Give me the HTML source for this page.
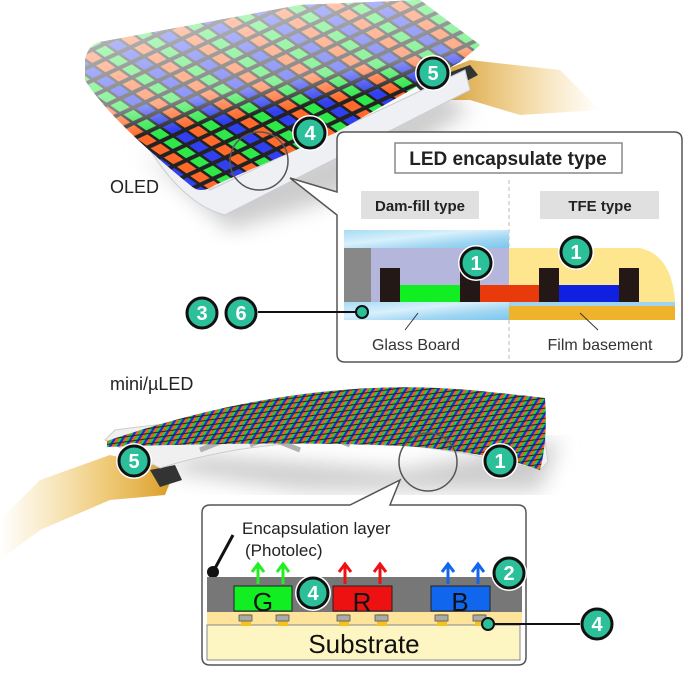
<!DOCTYPE html>
<html><head><meta charset="utf-8"><style>
html,body{margin:0;padding:0;background:#fff;}
svg{display:block;font-family:"Liberation Sans","DejaVu Sans",sans-serif;}
</style></head><body>
<svg width="696" height="680" viewBox="0 0 696 680" xmlns="http://www.w3.org/2000/svg">
<defs>
<pattern id="oled" width="42" height="14" patternUnits="userSpaceOnUse" patternTransform="rotate(-25) skewX(30)">
<rect width="42" height="14" fill="#222"/>
<rect x="1.5" y="2" width="11" height="10" fill="#ff6a2a"/>
<rect x="15.5" y="2" width="11" height="10" fill="#2ee84a"/>
<rect x="29.5" y="2" width="11" height="10" fill="#3040f0"/>
</pattern>
<pattern id="mled" width="9" height="5" patternUnits="userSpaceOnUse" patternTransform="rotate(-8) skewX(-40)">
<rect width="9" height="5" fill="#222"/>
<rect x="0" y="0.5" width="3" height="4" fill="#ff5a1a"/>
<rect x="3" y="0.5" width="3" height="4" fill="#1fcf3a"/>
<rect x="6" y="0.5" width="3" height="4" fill="#1830e0"/>
</pattern>
<linearGradient id="fade" x1="0.3" y1="0" x2="0.6" y2="0.8">
<stop offset="0" stop-color="#fff" stop-opacity="0.7"/>
<stop offset="0.55" stop-color="#fff" stop-opacity="0.45"/>
<stop offset="0.72" stop-color="#fff" stop-opacity="0"/>
</linearGradient>
<linearGradient id="glass" x1="0" y1="0" x2="1" y2="1">
<stop offset="0" stop-color="#a8dcf4"/><stop offset="0.4" stop-color="#d8f0fc"/><stop offset="0.7" stop-color="#a0d6f2"/><stop offset="1" stop-color="#7cc6ee"/>
</linearGradient>
<linearGradient id="flex" x1="1" y1="0" x2="0" y2="0">
<stop offset="0" stop-color="#f0c050" stop-opacity="0"/><stop offset="0.6" stop-color="#e0aa40" stop-opacity="0.7"/><stop offset="1" stop-color="#c88a18"/>
</linearGradient>
<linearGradient id="flex2" x1="0" y1="0" x2="1" y2="0">
<stop offset="0" stop-color="#f0c050" stop-opacity="0"/><stop offset="0.6" stop-color="#e8b440" stop-opacity="0.7"/><stop offset="1" stop-color="#d89a20"/>
</linearGradient>
<filter id="blur"><feGaussianBlur stdDeviation="10"/></filter>
</defs>

<!-- OLED shadow -->
<polygon points="140,150 230,230 330,200 470,110 440,90 330,150 220,190" fill="#ccc" filter="url(#blur)"/>
<!-- flex OLED -->
<polygon points="420,80 470,60 560,70 600,110 520,115 470,100 440,100" fill="url(#flex)"/>
<polygon points="415,85 470,65 478,75 430,100" fill="#333"/>
<!-- OLED glass edge -->
<path d="M150,150 Q185,205 225,215 L470,90 L465,70 L210,190 Z" fill="#eef0f3" stroke="#c8cdd4" stroke-width="1"/>
<!-- OLED top -->
<path d="M85,60 Q88,45 100,42 L300,5 L420,0 L480,45 L460,62 L335,133 L215,185 Q200,195 190,185 Q110,120 85,80 Z" fill="url(#oled)"/>
<path d="M85,60 Q88,45 100,42 L300,5 L420,0 L480,45 L460,62 L335,133 L215,185 Q200,195 190,185 Q110,120 85,80 Z" fill="url(#fade)"/>
<circle cx="259" cy="161" r="29" fill="none" stroke="#555" stroke-width="1.5"/>
<text x="110" y="193" font-size="18" fill="#222">OLED</text>

<!-- OLED callout -->
<path d="M345,132 L674,132 Q682,132 682,140 L682,354 Q682,362 674,362 L345,362 Q337,362 337,354 L337,215 L290,178 L337,192 L337,140 Q337,132 345,132 Z" fill="#fff" stroke="#555" stroke-width="1.5"/>
<rect x="395" y="143" width="227" height="30" fill="#fff" stroke="#888" stroke-width="1.5"/>
<text x="508" y="165" font-size="19" font-weight="bold" fill="#222" text-anchor="middle">LED encapsulate type</text>
<line x1="509" y1="180" x2="509" y2="360" stroke="#bbb" stroke-dasharray="4,3"/>
<rect x="361" y="191" width="118" height="28" fill="#e0e0e0"/>
<text x="420" y="211" font-size="15" font-weight="bold" fill="#222" text-anchor="middle">Dam-fill type</text>
<rect x="540" y="191" width="119" height="28" fill="#e0e0e0"/>
<text x="600" y="211" font-size="15" font-weight="bold" fill="#222" text-anchor="middle">TFE type</text>
<rect x="344" y="230" width="165" height="18" fill="url(#glass)"/>
<rect x="344" y="248" width="165" height="54" fill="#b4b6dc"/>
<rect x="344" y="248" width="27" height="54" fill="#888"/>
<path d="M509,248 L640,248 Q672,255 675,302 L509,302 Z" fill="#fde68e"/>
<rect x="400" y="285" width="60" height="17" fill="#11ee22"/>
<rect x="480" y="285" width="60" height="17" fill="#e83a0a"/>
<rect x="559" y="285" width="60" height="17" fill="#1020e0"/>
<rect x="380" y="268" width="20" height="34" fill="#231816"/>
<rect x="460" y="268" width="20" height="34" fill="#231816"/>
<rect x="539" y="268" width="20" height="34" fill="#231816"/>
<rect x="619" y="268" width="20" height="34" fill="#231816"/>
<rect x="344" y="302" width="165" height="18" fill="url(#glass)"/>
<rect x="509" y="302" width="166" height="4" fill="#9fd4f0"/>
<rect x="509" y="306" width="166" height="14" fill="#eeb32a"/>
<line x1="418" y1="313" x2="405" y2="330" stroke="#333"/>
<line x1="580" y1="313" x2="598" y2="330" stroke="#333"/>
<text x="416" y="350" font-size="16" fill="#333" text-anchor="middle">Glass Board</text>
<text x="600" y="350" font-size="16" fill="#333" text-anchor="middle">Film basement</text>
<line x1="258" y1="312" x2="358" y2="312" stroke="#111" stroke-width="2"/>
<circle cx="362" cy="312" r="6" fill="#2bbf9a" stroke="#111" stroke-width="2"/>

<!-- mini LED -->
<text x="110" y="390" font-size="18" fill="#222">mini/µLED</text>
<polygon points="160,470 300,490 540,490 560,440 400,470 200,455" fill="#ccc" filter="url(#blur)"/>
<path d="M0,520 L40,480 L110,455 L175,470 L165,495 L110,500 L40,530 L0,560 Z" fill="url(#flex2)"/>
<polygon points="150,470 175,465 182,480 160,487" fill="#333"/>
<path d="M105,440 L160,468 Q330,415 540,470 L548,462 L545,440 Q330,400 115,430 Z" fill="#f0f0f0" stroke="#ccc"/>
<path d="M200,450 L250,430 L300,450 M250,445 L300,425 L350,445 M300,440 L350,422 L400,440 M350,438 L400,420 L460,440" stroke="#b0b0b0" stroke-width="5" fill="none"/>
<path d="M107,441 Q300,375 470,390 Q530,396 545,398 Q548,440 540,470 Q500,455 420,447 Q300,440 107,447 Z" fill="url(#mled)"/>
<circle cx="428" cy="462" r="29" fill="none" stroke="#555" stroke-width="1.5"/>

<!-- bottom callout -->
<path d="M210,505 L350,505 L400,480 L390,505 L518,505 Q526,505 526,513 L526,657 Q526,665 518,665 L210,665 Q202,665 202,657 L202,513 Q202,505 210,505 Z" fill="#fff" stroke="#555" stroke-width="1.5"/>
<text x="242" y="534" font-size="17" fill="#222">Encapsulation layer</text>
<text x="245" y="556" font-size="17" fill="#222">(Photolec)</text>
<line x1="213" y1="572" x2="233" y2="535" stroke="#111" stroke-width="3"/>
<circle cx="213" cy="572" r="6" fill="#111"/>
<rect x="207" y="577" width="315" height="35" fill="#777"/>
<rect x="207" y="612" width="315" height="13" fill="#fde49a"/>
<rect x="207" y="625" width="313" height="35" fill="#fdf6c3" stroke="#888"/>
<text x="364" y="653" font-size="26" fill="#111" text-anchor="middle">Substrate</text>
<g fill="#f5c020">
<rect x="241" y="614" width="10" height="12"/><rect x="278" y="614" width="10" height="12"/>
<rect x="339" y="614" width="10" height="12"/><rect x="377" y="614" width="10" height="12"/>
<rect x="437" y="614" width="10" height="12"/><rect x="475" y="614" width="10" height="12"/></g>
<g fill="#aaa" stroke="#555" stroke-width="0.8">
<rect x="239" y="615" width="13" height="6"/><rect x="276" y="615" width="13" height="6"/>
<rect x="337" y="615" width="13" height="6"/><rect x="375" y="615" width="13" height="6"/>
<rect x="435" y="615" width="13" height="6"/><rect x="473" y="615" width="13" height="6"/></g>
<rect x="234" y="586" width="58" height="25" fill="#11ee22" stroke="#222"/>
<rect x="333" y="586" width="59" height="25" fill="#ee1111" stroke="#222"/>
<rect x="431" y="586" width="59" height="25" fill="#1166ee" stroke="#222"/>
<text x="263" y="611" font-size="26" fill="#111" text-anchor="middle">G</text>
<text x="362" y="611" font-size="26" fill="#111" text-anchor="middle">R</text>
<text x="460" y="611" font-size="26" fill="#111" text-anchor="middle">B</text>
<g stroke-width="3" fill="none">
<g stroke="#22ee22"><path d="M258,584 V565 M252,572 L258,564 L264,572"/><path d="M283,584 V565 M277,572 L283,564 L289,572"/></g>
<g stroke="#ee1111"><path d="M345,584 V565 M339,572 L345,564 L351,572"/><path d="M380,584 V565 M374,572 L380,564 L386,572"/></g>
<g stroke="#1166ee"><path d="M448,584 V565 M442,572 L448,564 L454,572"/><path d="M478,584 V565 M472,572 L478,564 L484,572"/></g>
</g>
<line x1="490" y1="624" x2="580" y2="624" stroke="#111" stroke-width="2"/>
<circle cx="488" cy="624" r="6" fill="#2bbf9a" stroke="#111" stroke-width="2"/>

<g font-size="20" font-weight="bold" fill="#fff" text-anchor="middle">
<g><circle cx="433" cy="73" r="18" fill="#fff"/><circle cx="433" cy="73" r="15" fill="#2bbf9a" stroke="#111" stroke-width="3"/><text x="433" y="80">5</text></g>
<g><circle cx="310" cy="133" r="18" fill="#fff"/><circle cx="310" cy="133" r="15" fill="#2bbf9a" stroke="#111" stroke-width="3"/><text x="310" y="140">4</text></g>
<g><circle cx="476" cy="263" r="18" fill="#fff"/><circle cx="476" cy="263" r="15" fill="#2bbf9a" stroke="#111" stroke-width="3"/><text x="476" y="270">1</text></g>
<g><circle cx="576" cy="252" r="18" fill="#fff"/><circle cx="576" cy="252" r="15" fill="#2bbf9a" stroke="#111" stroke-width="3"/><text x="576" y="259">1</text></g>
<g><circle cx="202" cy="313" r="15" fill="#2bbf9a" stroke="#111" stroke-width="3"/><text x="202" y="320">3</text></g>
<g><circle cx="241" cy="313" r="15" fill="#2bbf9a" stroke="#111" stroke-width="3"/><text x="241" y="320">6</text></g>
<g><circle cx="134" cy="461" r="18" fill="#fff"/><circle cx="134" cy="461" r="15" fill="#2bbf9a" stroke="#111" stroke-width="3"/><text x="134" y="468">5</text></g>
<g><circle cx="500" cy="461" r="18" fill="#fff"/><circle cx="500" cy="461" r="15" fill="#2bbf9a" stroke="#111" stroke-width="3"/><text x="500" y="468">1</text></g>
<g><circle cx="509" cy="573" r="18" fill="#fff"/><circle cx="509" cy="573" r="15" fill="#2bbf9a" stroke="#111" stroke-width="3"/><text x="509" y="580">2</text></g>
<g><circle cx="313" cy="593" r="18" fill="#fff"/><circle cx="313" cy="593" r="15" fill="#2bbf9a" stroke="#111" stroke-width="3"/><text x="313" y="600">4</text></g>
<g><circle cx="597" cy="624" r="15" fill="#2bbf9a" stroke="#111" stroke-width="3"/><text x="597" y="631">4</text></g>
</g>
</svg>
</body></html>
